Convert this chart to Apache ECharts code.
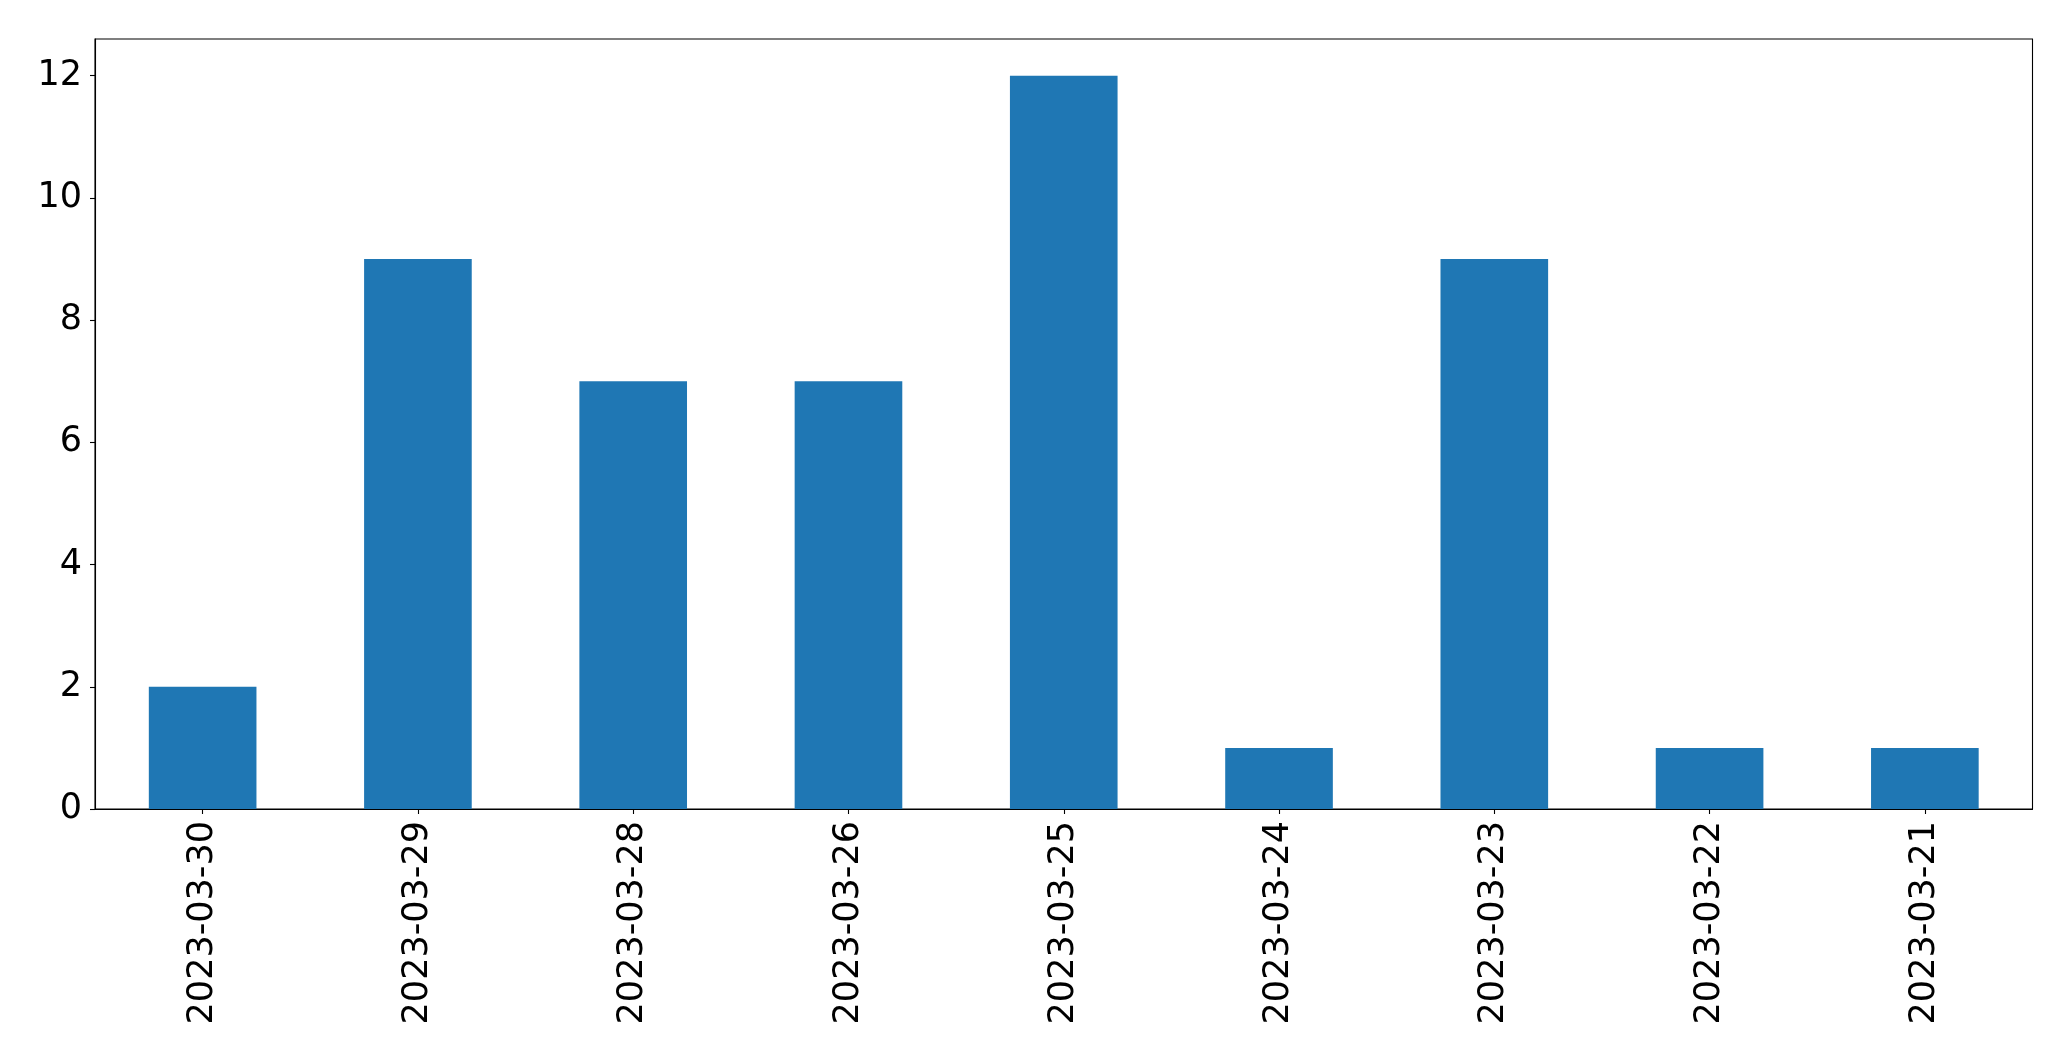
<!DOCTYPE html>
<html>
<head>
<meta charset="utf-8">
<script src="https://cdn.jsdelivr.net/npm/echarts@6/dist/echarts.min.js"></script>
<style>
html,body{margin:0;padding:0;background:#fff;}
#chart{width:2071px;height:1061px;}
</style>
</head>
<body>
<div id="chart"></div>
<script>
const categories = ['2023-03-30','2023-03-29','2023-03-28','2023-03-26','2023-03-25','2023-03-24','2023-03-23','2023-03-22','2023-03-21'];
const values = [2, 9, 7, 7, 12, 1, 9, 1, 1];
const yTicks = [0, 2, 4, 6, 8, 10, 12];

const chart = echarts.init(document.getElementById('chart'), null, {renderer: 'canvas'});
const font = 'DejaVu Sans';
chart.setOption({
  animation: false,
  backgroundColor: '#ffffff',
  grid: {
    left: 95, right: 38.5, top: 39, bottom: 252,
    show: true, borderColor: '#000', borderWidth: 1.1, backgroundColor: 'transparent'
  },
  xAxis: {
    type: 'category',
    data: categories,
    boundaryGap: true,
    axisLine: {show: true, lineStyle: {color: '#000', width: 1.1}},
    axisTick: {show: true, alignWithLabel: true, length: 5, lineStyle: {color: '#000', width: 1.1}},
    axisLabel: {rotate: 90, margin: 12, color: '#000', fontFamily: font, fontSize: 35, interval: 0},
    splitLine: {show: false}
  },
  yAxis: {
    type: 'value',
    min: 0, max: 12.6, interval: 2,
    axisLine: {show: true, lineStyle: {color: '#000', width: 1.1}},
    axisTick: {show: true, length: 5, lineStyle: {color: '#000', width: 1.1}, customValues: yTicks},
    axisLabel: {margin: 13, color: '#000', fontFamily: font, fontSize: 35, customValues: yTicks},
    splitLine: {show: false}
  },
  series: [{
    type: 'bar',
    data: values,
    barWidth: '50%',
    itemStyle: {color: '#1f77b4'}
  }]
});
</script>
</body>
</html>
